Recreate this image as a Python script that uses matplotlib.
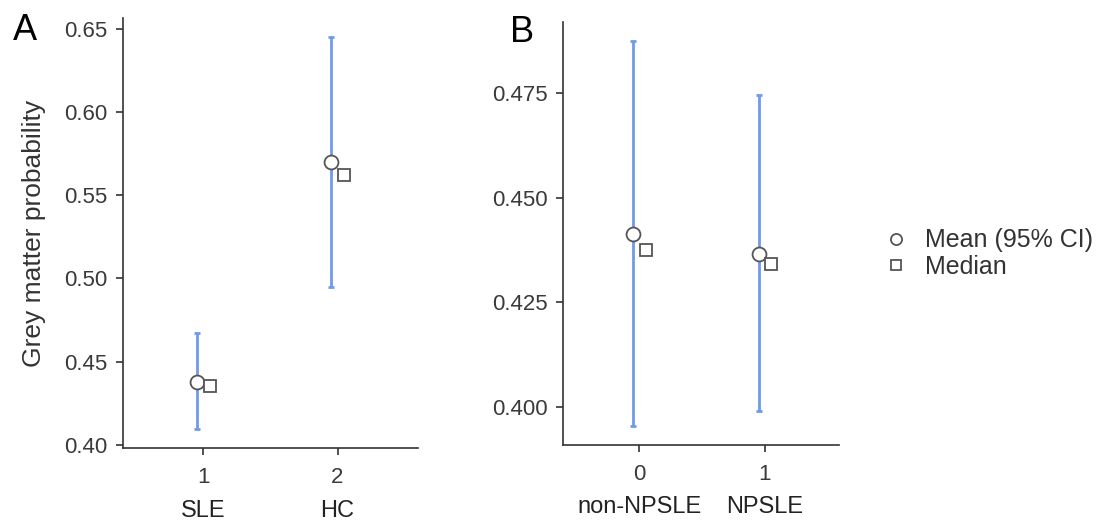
import numpy as np
import matplotlib
matplotlib.use('Agg')
import matplotlib.pyplot as plt

plt.rcParams['font.family'] = ['Liberation Sans', 'DejaVu Sans']

# Panel A: SLE vs HC
a_pos = [1, 2]
a_names = ['SLE', 'HC']
a_mean = [0.4378, 0.5700]
a_median = [0.4355, 0.5622]
a_lo = [0.4096, 0.4950]
a_hi = [0.4672, 0.6450]

# Panel B: non-NPSLE vs NPSLE
b_pos = [0, 1]
b_names = ['non-NPSLE', 'NPSLE']
b_mean = [0.4414, 0.4366]
b_median = [0.4374, 0.4342]
b_lo = [0.3955, 0.3991]
b_hi = [0.4875, 0.4745]

BLUE = '#6f9be8'
GREY = '#555555'
AXC = '#333333'

fig = plt.figure(figsize=(11.15, 5.22), dpi=100)
axA = fig.add_axes([0.1103, 0.1418, 0.2646, 0.8237])
axB = fig.add_axes([0.5049, 0.1475, 0.2475, 0.8104])


def draw(ax, pos, names, mean, median, lo, hi, dodge=0.05):
    pos = np.array(pos, dtype=float)
    mean = np.array(mean)
    err = [mean - np.array(lo), np.array(hi) - mean]
    ax.errorbar(pos - dodge, mean, yerr=err, fmt='none', ecolor=BLUE,
                elinewidth=2.0, capsize=2, capthick=2.0, zorder=2)
    ax.plot(pos - dodge, mean, 'o', ms=10, mfc='white', mec=GREY, mew=1.3,
            zorder=3, label='Mean (95% CI)')
    ax.plot(pos + dodge, median, 's', ms=8.5, mfc='white', mec=GREY, mew=1.3,
            zorder=3, label='Median')
    for sp in ['top', 'right']:
        ax.spines[sp].set_visible(False)
    for sp in ['left', 'bottom']:
        ax.spines[sp].set_color(AXC)
        ax.spines[sp].set_linewidth(1.2)
    ax.tick_params(colors=AXC, labelcolor='#3a3a3a', labelsize=16,
                   length=5, width=1.2)
    ax.tick_params(axis='y', pad=6)
    ax.tick_params(axis='x', pad=9)
    ax.set_xticks(pos)
    ax.set_xticklabels([str(int(p)) for p in pos])
    for p, n in zip(pos, names):
        ax.text(p, -0.146, n, transform=ax.get_xaxis_transform(),
                ha='center', va='center', fontsize=17, color='#222222')


draw(axA, a_pos, a_names, a_mean, a_median, a_lo, a_hi)
axA.set_xlim(0.4, 2.6)
axA.set_ylim(0.398, 0.6566)
axA.set_yticks([0.40, 0.45, 0.50, 0.55, 0.60, 0.65])
axA.set_yticklabels(['0.40', '0.45', '0.50', '0.55', '0.60', '0.65'])
axA.set_ylabel('Grey matter probability', fontsize=19, color='#333333')
axA.yaxis.set_label_coords(-0.262, 0.5)

draw(axB, b_pos, b_names, b_mean, b_median, b_lo, b_hi)
axB.set_xlim(-0.608, 1.59)
axB.set_ylim(0.3909, 0.492)
axB.set_yticks([0.400, 0.425, 0.450, 0.475])
axB.set_yticklabels(['0.400', '0.425', '0.450', '0.475'])

fig.text(25 / 1115, 1 - 30 / 522, 'A', fontsize=26, ha='center', va='center')
fig.text(522 / 1115, 1 - 32 / 522, 'B', fontsize=26, ha='center', va='center')

h, l = axA.get_legend_handles_labels()
fig.legend(h, l, loc='center left', bbox_to_anchor=(0.792, 0.514), frameon=False,
           fontsize=18, handletextpad=0.66, handlelength=1.0, labelspacing=0.1,
           borderpad=0, borderaxespad=0, markerscale=0.8, labelcolor='#333333')

fig.savefig('out.png', dpi=100)
